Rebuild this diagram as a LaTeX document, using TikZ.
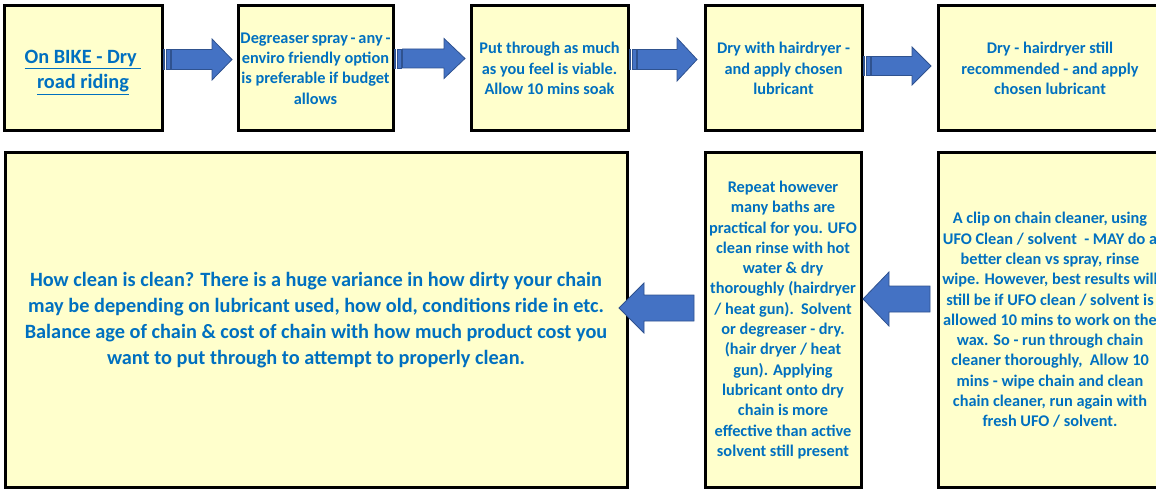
\documentclass[tikz,border=0pt]{standalone}
\usepackage{fontspec}
\setmainfont{Carlito}
\definecolor{boxfill}{HTML}{FFFFCC}
\definecolor{txtblue}{HTML}{0070C0}
\definecolor{arrfill}{HTML}{4472C4}
\definecolor{arrline}{HTML}{2F528F}
\tikzset{
  box/.style={draw=black, line width=3pt, fill=boxfill, text=txtblue, align=center,
    font=\bfseries\fontsize{16.3}{20.3}\selectfont, inner sep=0pt},
  plaintxt/.style={text=txtblue, align=center, inner sep=0pt},
  bigtxt/.style={font=\bfseries\fontsize{20.3}{26}\selectfont},
  titletxt/.style={font=\bfseries\fontsize{20.3}{25}\selectfont},
  arr/.style={fill=arrfill, draw=arrline, line width=0.8pt, line join=miter}
}
% #1 tail x, #2 head start x, #3 tip x, #4 centre y, #5 shaft half height, #6 head half height
\newcommand\blockarrow[6]{%
  \filldraw[arr] (#1,#4-#5) -- (#2,#4-#5) -- (#2,#4-#6) -- (#3,#4) -- (#2,#4+#6) -- (#2,#4+#5) -- (#1,#4+#5) -- cycle;}
% striped right arrow: stripes at the tail
\newcommand\stripedarrow[6]{%
  \filldraw[arr] (#1,#4-#5) rectangle (#1+1.6,#4+#5);
  \filldraw[arr] (#1+3,#4-#5) rectangle (#1+7,#4+#5);
  \blockarrow{#1+8.5}{#2}{#3}{#4}{#5}{#6}}
\begin{document}
\begin{tikzpicture}[x=1pt,y=-1pt]
\useasboundingbox (0,0) rectangle (1156,489);
\clip (0,0) rectangle (1156,489);
% top row
\node[box, minimum width=158, minimum height=125] (b1) at (83,68.5) {};
\node[plaintxt, titletxt] (b1t) at ([yshift=-4pt]b1.center)
  {\underline{On BIKE - Dry\ }\\\underline{road riding}};
\node[box, minimum width=155, minimum height=125] (b2) at (315.5,68.5)
  {\spaceskip=0.17em plus 0.05em\relax Degreaser spray - any -\\enviro friendly option\\is preferable if budget\\allows};
\node[box, minimum width=157, minimum height=125] (b3) at (549.5,68.5)
  {Put through as much\\as you feel is viable.\\Allow 10 mins soak};
\node[box, minimum width=157, minimum height=125] (b4) at (783.5,68.5)
  {Dry with hairdryer -\\and apply chosen\\lubricant};
\node[box, minimum width=224, minimum height=125] (b5) at (1050,68.5)
  {Dry - hairdryer still\\recommended - and apply\\chosen lubricant};
% bottom row
\node[box, bigtxt, minimum width=622, minimum height=334] (b8) at (316,320)
  {How clean is clean? There is a huge variance in how dirty your chain\\
   may be depending on lubricant used, how old, conditions ride in etc.\\
   Balance age of chain \& cost of chain with how much product cost you\\
   want to put through to attempt to properly clean.};
\node[box, minimum width=156, minimum height=334] (b7) at (783,320)
  {Repeat however\\many baths are\\practical for you. UFO\\clean rinse with hot\\water \& dry\\thoroughly (hairdryer\\/ heat gun).\ \ Solvent\\or degreaser - dry.\\(hair dryer / heat\\gun). Applying\\lubricant onto dry\\chain is more\\effective than active\\solvent still present};
\node[box, minimum width=224, minimum height=334] (b6) at (1050,320)
  {A clip on chain cleaner, using\\UFO Clean / solvent\ \ - MAY do a\\better clean vs spray, rinse\\wipe. However, best results will\\still be if UFO clean / solvent is\\allowed 10 mins to work on the\\wax. So - run through chain\\cleaner thoroughly,\ \ Allow 10\\mins - wipe chain and clean\\chain cleaner, run again with\\fresh UFO / solvent.};
% arrows top row
\stripedarrow{163}{212}{232}{59.5}{10}{20.5}
\stripedarrow{394}{444}{465}{58.5}{9.5}{20}
\stripedarrow{629}{677}{697}{59.5}{10}{21.5}
\stripedarrow{863}{912}{931}{66}{9.5}{19}
% arrows bottom row
\blockarrow{930}{889}{863}{299}{13}{27}
\blockarrow{694}{644}{619}{308}{13}{25}
\end{tikzpicture}
\end{document}
